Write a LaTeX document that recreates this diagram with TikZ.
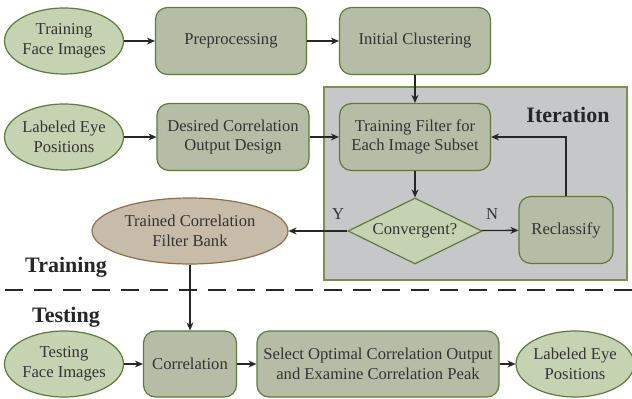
\documentclass[tikz,border=0pt]{standalone}
\usepackage{fontspec}
\setmainfont{Liberation Serif}
\usetikzlibrary{shapes.geometric,arrows.meta}
\definecolor{elfill}{HTML}{C6D3B2}
\definecolor{boxfill}{HTML}{B5BDA6}
\definecolor{gborder}{HTML}{5E7A3C}
\definecolor{bfill}{HTML}{C7BBAA}
\definecolor{bborder}{HTML}{8C7048}
\definecolor{iterfill}{HTML}{C6C7C9}
\definecolor{iterborder}{HTML}{7A9050}
\definecolor{txt}{HTML}{333333}
\tikzset{
  base/.style={font=\fontsize{16.6}{19.7}\selectfont, text=txt, align=center, inner sep=0pt, line width=1.2pt},
  ell/.style={base, ellipse, draw=gborder, fill=elfill, minimum width=119pt, minimum height=66pt},
  procbox/.style={base, rectangle, rounded corners=12pt, draw=gborder, fill=boxfill, minimum width=151pt, minimum height=67pt},
  dia/.style={base, diamond, aspect=2, draw=gborder, fill=elfill, minimum width=134pt, minimum height=66pt},
  arr/.style={line width=1.3pt, draw=black!85, -{Stealth[length=8pt,width=7pt]}},
  biglabel/.style={font=\fontsize{22}{24}\selectfont\bfseries, text=black!85, inner sep=0pt},
  yn/.style={font=\fontsize{16.6}{18}\selectfont, text=txt, inner sep=0pt}
}
\begin{document}
\begin{tikzpicture}[x=1pt,y=-1pt]
\useasboundingbox (0,0) rectangle (632,399);
\fill[white] (0,0) rectangle (632,399);
% iteration box
\draw[fill=iterfill, draw=iterborder, line width=1.2pt] (324,87) rectangle (627,280);
\node[biglabel] (itl) at (568,115) {Iteration};
% row 1
\node[ell] (tfi) at (64,41) {Training\\Face Images};
\node[procbox] (pre) at (231,41) {Preprocessing};
\node[procbox] (ic) at (415,41) {Initial Clustering};
% row 2
\node[ell] (lep) at (64,137) {Labeled Eye\\Positions};
\node[procbox, minimum width=152pt] (dcod) at (233,137) {Desired Correlation\\Output Design};
\node[procbox] (tf) at (415,137) {Training Filter for\\Each Image Subset};
% row 3
\node[dia] (conv) at (415,231) {Convergent?};
\node[procbox, minimum width=94pt] (recl) at (566,230) {Reclassify};
\node[ell, fill=bfill, draw=bborder, minimum width=196pt] (tcfb) at (190,231) {Trained Correlation\\Filter Bank};
% labels
\node[biglabel] (trl) at (66,267) {Training};
\node[biglabel] (tsl) at (66,317) {Testing};
\coordinate (dl) at (5,290);
\coordinate (dr) at (632,290);
\draw[line width=2.8pt, black!85, dash pattern=on 18pt off 11pt] (dl) -- (dr);
% testing row
\node[ell] (tfi2) at (64,364) {Testing\\Face Images};
\node[procbox, minimum width=93pt, minimum height=66pt] (corr) at (190,364) {Correlation};
\node[procbox, minimum width=242pt, minimum height=66pt] (sel) at (378,364) {Select Optimal Correlation Output\\and Examine Correlation Peak};
\node[ell, minimum width=113pt] (lep2) at (575,364) {Labeled Eye\\Positions};
% arrows
\draw[arr] (tfi) -- (pre);
\draw[arr] (pre) -- (ic);
\draw[arr] (ic) -- (tf);
\draw[arr] (lep) -- (dcod);
\draw[arr] (dcod) -- (tf);
\draw[arr] (tf) -- (conv);
\draw[arr] (conv) -- (recl);
\node[yn] (nlab) at (492,214) {N};
\draw[arr] (conv.west) -- (tcfb.east);
\node[yn] (ylab) at (338,214) {Y};
\draw[arr] (recl.north) |- (tf.east);
\draw[arr] (tcfb) -- (corr);
\draw[arr] (tfi2) -- (corr);
\draw[arr] (corr) -- (sel);
\draw[arr] (sel) -- (lep2);
\end{tikzpicture}
\end{document}
